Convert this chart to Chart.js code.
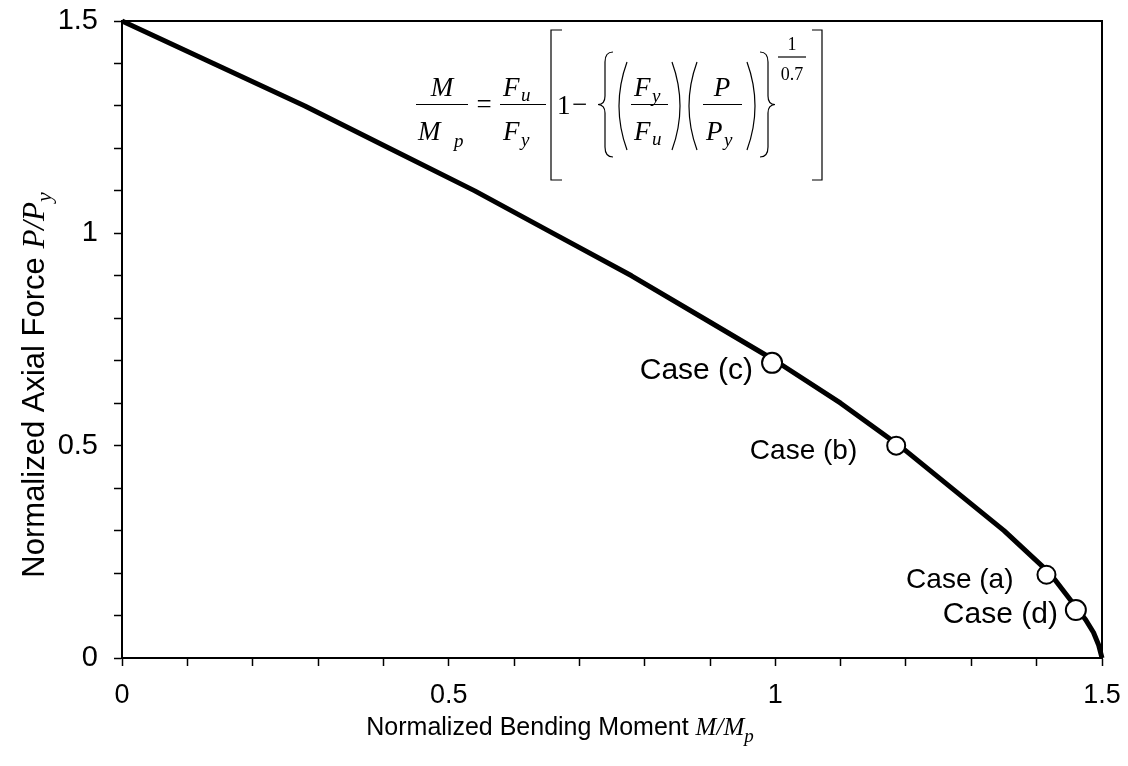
<!DOCTYPE html>
<html>
<head>
<meta charset="utf-8">
<script src="https://cdn.jsdelivr.net/npm/chart.js@4"></script>
<style>
  html, body { margin: 0; padding: 0; background: #fff; }
  #wrap { width: 1128px; height: 766px; }
</style>
</head>
<body>
<div id="wrap"><canvas id="chart"></canvas></div>
<script>
// interaction curve
const moment = [0, 0.14, 0.28, 0.41, 0.54, 0.66, 0.78, 0.89, 1.0, 1.1, 1.19, 1.27, 1.35, 1.42, 1.46, 1.475, 1.487, 1.495, 1.5];
const axial = [1.5, 1.4, 1.3, 1.2, 1.1, 1.0, 0.9, 0.8, 0.7, 0.6, 0.5, 0.4, 0.3, 0.2, 0.12, 0.09, 0.06, 0.03, 0];

// analysed cases
const caseNames = ["Case (c)", "Case (b)", "Case (a)", "Case (d)"];
const caseMoment = [0.995, 1.185, 1.415, 1.46];
const caseAxial = [0.695, 0.5, 0.196, 0.113];

const tickLabels = ["0", "0.5", "1", "1.5"];

const SANS = '"Liberation Sans", Arial, sans-serif';
const SERIF = '"Liberation Serif", "Times New Roman", serif';

// label placement next to each marker (dx to text right edge, dy to middle)
const caseLabelStyle = [
  { dx: -19, dy: 8, size: 30 },
  { dx: -39, dy: 6, size: 28 },
  { dx: -33, dy: 6, size: 28 },
  { dx: -18, dy: 5, size: 30 }
];

const framePlugin = {
  id: "frame",
  afterDraw(chart) {
    const { ctx, chartArea: a } = chart;
    ctx.save();
    ctx.strokeStyle = "#000";
    ctx.lineWidth = 2;
    ctx.beginPath();
    ctx.moveTo(a.left, a.top);
    ctx.lineTo(a.right, a.top);
    ctx.lineTo(a.right, a.bottom);
    ctx.stroke();
    ctx.restore();
  }
};

const caseLabelPlugin = {
  id: "caseLabels",
  afterDatasetsDraw(chart) {
    const { ctx, scales } = chart;
    ctx.save();
    ctx.fillStyle = "#000";
    ctx.textAlign = "right";
    ctx.textBaseline = "middle";
    caseNames.forEach((name, i) => {
      const st = caseLabelStyle[i];
      const px = scales.x.getPixelForValue(caseMoment[i]);
      const py = scales.y.getPixelForValue(caseAxial[i]);
      ctx.font = st.size + "px " + SANS;
      ctx.fillText(name, px + st.dx, py + st.dy);
    });
    ctx.restore();
  }
};

// text runs: [text, font, dy]
function runWidth(ctx, parts) {
  let w = 0;
  parts.forEach(p => { ctx.font = p[1]; w += ctx.measureText(p[0]).width; });
  return w;
}
function drawRun(ctx, parts, x, y) {
  parts.forEach(p => {
    ctx.font = p[1];
    ctx.fillText(p[0], x, y + (p[2] || 0));
    x += ctx.measureText(p[0]).width;
  });
}

const titlePlugin = {
  id: "axisTitles",
  afterDraw(chart) {
    const { ctx } = chart;
    ctx.save();
    ctx.fillStyle = "#000";
    ctx.textAlign = "left";
    ctx.textBaseline = "alphabetic";

    const xParts = [
      ["Normalized Bending Moment ", "25px " + SANS],
      ["M/M", "italic 25px " + SERIF],
      ["p", "italic 19px " + SERIF, 7]
    ];
    const xw = runWidth(ctx, xParts);
    drawRun(ctx, xParts, 560 - xw / 2, 735);

    const yParts = [
      ["Normalized Axial Force ", "31px " + SANS],
      ["P/P", "italic 31px " + SERIF],
      ["y", "italic 22px " + SERIF, 7]
    ];
    const yw = runWidth(ctx, yParts);
    ctx.translate(44, 385);
    ctx.rotate(-Math.PI / 2);
    drawRun(ctx, yParts, -yw / 2, 0);
    ctx.restore();
  }
};

const formulaPlugin = {
  id: "formula",
  afterDraw(chart) {
    const ctx = chart.ctx;
    const I = "italic 27px " + SERIF;
    const R = "27px " + SERIF;
    const S = "italic 19px " + SERIF;
    const E = "18px " + SERIF;
    ctx.save();
    ctx.fillStyle = "#000";
    ctx.strokeStyle = "#000";
    ctx.lineWidth = 1.2;
    ctx.textBaseline = "alphabetic";

    const hline = (x1, x2, y) => {
      ctx.beginPath(); ctx.moveTo(x1, y); ctx.lineTo(x2, y); ctx.stroke();
    };
    const put = (s, x, y, f, align) => {
      ctx.font = f; ctx.textAlign = align || "left"; ctx.fillText(s, x, y);
    };

    // M / M_p
    put("M", 442, 96, I, "center");
    hline(416, 468, 104.5);
    put("M", 418, 140, I);
    put("p", 454, 147, S);
    // =
    put("=", 484, 113, R, "center");
    // F_u / F_y
    put("F", 503, 96, I);
    put("u", 521, 101, S);
    hline(500, 546, 104.5);
    put("F", 503, 140, I);
    put("y", 521, 146, S);

    // [ ... ]
    ctx.beginPath();
    ctx.moveTo(562, 30); ctx.lineTo(551, 30); ctx.lineTo(551, 180); ctx.lineTo(562, 180);
    ctx.moveTo(812, 30); ctx.lineTo(822, 30); ctx.lineTo(822, 180); ctx.lineTo(812, 180);
    ctx.stroke();

    // 1 −
    put("1", 557, 114, R);
    put("\u2212", 572, 113, R);

    // { }
    ctx.beginPath();
    ctx.moveTo(613, 52); ctx.quadraticCurveTo(605, 52, 605, 62); ctx.lineTo(605, 96);
    ctx.quadraticCurveTo(605, 104.5, 598, 104.5); ctx.quadraticCurveTo(605, 105, 605, 113);
    ctx.lineTo(605, 147); ctx.quadraticCurveTo(605, 157, 613, 157);
    ctx.moveTo(760, 52); ctx.quadraticCurveTo(768, 52, 768, 62); ctx.lineTo(768, 96);
    ctx.quadraticCurveTo(768, 104.5, 775, 104.5); ctx.quadraticCurveTo(768, 105, 768, 113);
    ctx.lineTo(768, 147); ctx.quadraticCurveTo(768, 157, 760, 157);
    ctx.stroke();

    // ( F_y / F_u ) ( P / P_y )
    ctx.beginPath();
    ctx.moveTo(627, 62); ctx.quadraticCurveTo(611, 106, 627, 150);
    ctx.moveTo(672, 62); ctx.quadraticCurveTo(688, 106, 672, 150);
    ctx.moveTo(697, 62); ctx.quadraticCurveTo(681, 106, 697, 150);
    ctx.moveTo(747, 62); ctx.quadraticCurveTo(763, 106, 747, 150);
    ctx.stroke();
    put("F", 634, 96, I);
    put("y", 652, 102, S);
    hline(631, 668, 104.5);
    put("F", 634, 140, I);
    put("u", 652, 145, S);

    put("P", 722, 96, I, "center");
    hline(703, 742, 104.5);
    put("P", 706, 140, I);
    put("y", 724, 146, S);

    // exponent 1 / 0.7
    put("1", 792, 50, E, "center");
    hline(778, 806, 57);
    put("0.7", 792, 80, E, "center");

    ctx.restore();
  }
};

const tickCallback = (v) => {
  const k = Math.round(v * 10);
  return k % 5 === 0 ? tickLabels[k / 5] : "";
};

new Chart(document.getElementById("chart"), {
  data: {
    datasets: [
      {
        type: "scatter",
        data: caseMoment.map((m, i) => ({ x: m, y: caseAxial[i] })),
        pointRadius: [10, 9, 9, 10],
        pointBackgroundColor: "#fff",
        pointBorderColor: "#000",
        pointBorderWidth: 2,
        order: 0
      },
      {
        type: "line",
        data: moment.map((m, i) => ({ x: m, y: axial[i] })),
        borderColor: "#000",
        borderWidth: 5,
        borderJoinStyle: "round",
        pointRadius: 0,
        tension: 0,
        fill: false,
        clip: 4,
        order: 1
      }
    ]
  },
  options: {
    responsive: true,
    maintainAspectRatio: false,
    animation: false,
    events: [],
    layout: { padding: { top: 21, right: 26, left: 0, bottom: 0 } },
    plugins: { legend: { display: false }, tooltip: { enabled: false } },
    scales: {
      x: {
        type: "linear",
        min: 0,
        max: 1.5,
        afterFit: (s) => { s.height = 108; s.paddingLeft = 0; s.paddingRight = 0; },
        ticks: {
          stepSize: 0.1,
          autoSkip: false,
          maxRotation: 0,
          padding: 13,
          color: "#000",
          font: { family: SANS, size: 27 },
          callback: tickCallback
        },
        grid: { drawOnChartArea: false, tickLength: 8, tickColor: "#000", tickWidth: 1.5 },
        border: { color: "#000", width: 2 }
      },
      y: {
        type: "linear",
        min: 0,
        max: 1.5,
        afterFit: (s) => { s.width = 122; s.paddingTop = 0; s.paddingBottom = 0; },
        ticks: {
          stepSize: 0.1,
          autoSkip: false,
          padding: 16,
          color: "#000",
          font: { family: SANS, size: 29 },
          callback: tickCallback
        },
        grid: { drawOnChartArea: false, tickLength: 8, tickColor: "#000", tickWidth: 1.5 },
        border: { color: "#000", width: 2 }
      }
    }
  },
  plugins: [framePlugin, caseLabelPlugin, titlePlugin, formulaPlugin]
});
</script>
</body>
</html>
